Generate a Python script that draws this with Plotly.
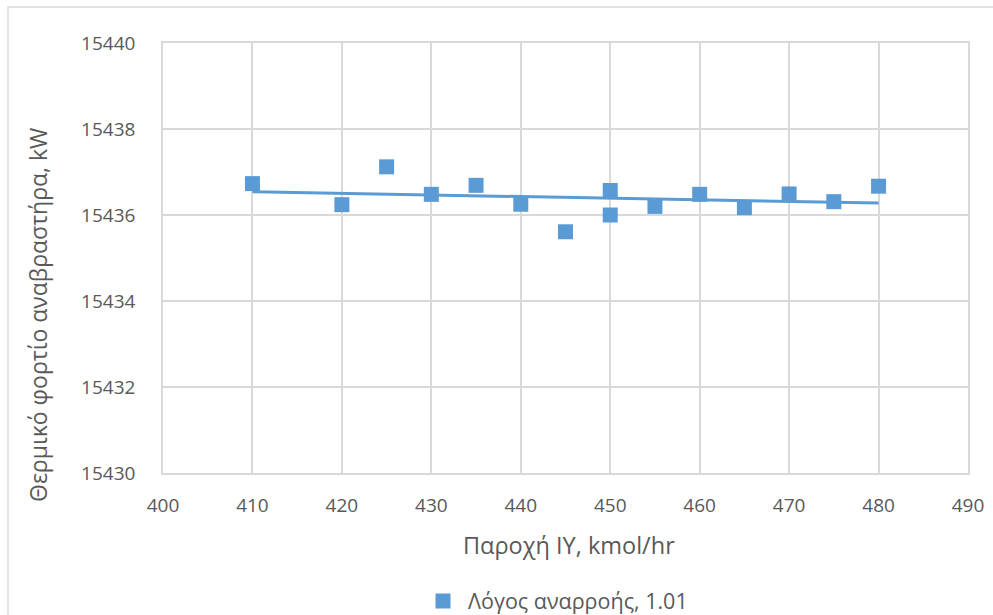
import numpy as np
import plotly.graph_objects as go

# Feed flow (kmol/hr) and reboiler duty (kW) at reflux ratio 1.01
flow = [410, 420, 425, 430, 435, 440, 445, 450, 450, 455, 460, 465, 470, 475, 480]
duty = [15436.73, 15436.24, 15437.12, 15436.48, 15436.69, 15436.25, 15435.61,
        15436.57, 15436.00, 15436.20, 15436.48, 15436.17, 15436.49, 15436.31, 15436.67]

series_name = "Λόγος αναρροής, 1.01"
x_title = "Παροχή ΙΥ, kmol/hr"
y_title = "Θερμικό φορτίο αναβραστήρα, kW"

blue = "#5b9bd5"
grid = "#d9d9d9"
text_grey = "#595959"
font_family = "Open Sans"

# plot area in pixels (left, right, top, bottom)
PL, PR, PT, PB = 163, 968, 43, 473
PW, PH = PR - PL, PB - PT


def px_x(p):
    return (p - PL) / PW


def px_y(p):
    return (PB - p) / PH


# Linear trend line through the data
slope, intercept = np.polyfit(flow, duty, 1)
trend_x = np.array([min(flow), max(flow)])
trend_y = slope * trend_x + intercept

fig = go.Figure()
fig.add_trace(go.Scatter(
    x=flow, y=duty, mode="markers", name=series_name,
    marker=dict(symbol="square", size=15, color=blue),
))
fig.add_trace(go.Scatter(
    x=trend_x, y=trend_y, mode="lines", showlegend=False,
    line=dict(color=blue, width=3),
))

fig.update_layout(
    width=993, height=615,
    margin=dict(l=PL, r=993 - PR, t=PT, b=615 - PB, autoexpand=False),
    paper_bgcolor="white", plot_bgcolor="white",
    font=dict(family=font_family, color=text_grey, size=18),
    showlegend=True,
    legend=dict(
        x=px_x(418), y=px_y(601),
        xanchor="left", yanchor="middle",
        orientation="h", font=dict(size=21.5, color=text_grey),
        itemwidth=40,
    ),
    xaxis=dict(
        range=[400, 490], dtick=10, tick0=400, automargin=False,
        showgrid=True, gridcolor=grid, gridwidth=1.5,
        showline=True, linecolor=grid, linewidth=1.5, mirror=True,
        zeroline=False, ticks="", ticklabelstandoff=14,
        tickfont=dict(size=19, color=text_grey),
    ),
    yaxis=dict(
        range=[15430, 15440], dtick=2, tick0=15430, automargin=False,
        showgrid=True, gridcolor=grid, gridwidth=1.5,
        showline=True, linecolor=grid, linewidth=1.5, mirror=True,
        zeroline=False, ticks="", ticklabelstandoff=22,
        tickformat="d",
        tickfont=dict(size=19, color=text_grey),
    ),
    annotations=[
        dict(text=x_title, xref="paper", yref="paper",
             x=px_x(569), y=px_y(545), xanchor="center", yanchor="middle",
             showarrow=False, font=dict(size=23.5, color=text_grey)),
        dict(text=y_title, xref="paper", yref="paper", textangle=-90,
             x=px_x(38), y=px_y(315), xanchor="center", yanchor="middle",
             showarrow=False, font=dict(size=23, color=text_grey)),
    ],
    shapes=[dict(
        type="rect", xref="paper", yref="paper",
        x0=px_x(8), x1=px_x(1010),
        y0=px_y(640), y1=px_y(7),
        line=dict(color=grid, width=1.5), fillcolor="rgba(0,0,0,0)",
        layer="below",
    )],
)

fig.write_html("out.html")
